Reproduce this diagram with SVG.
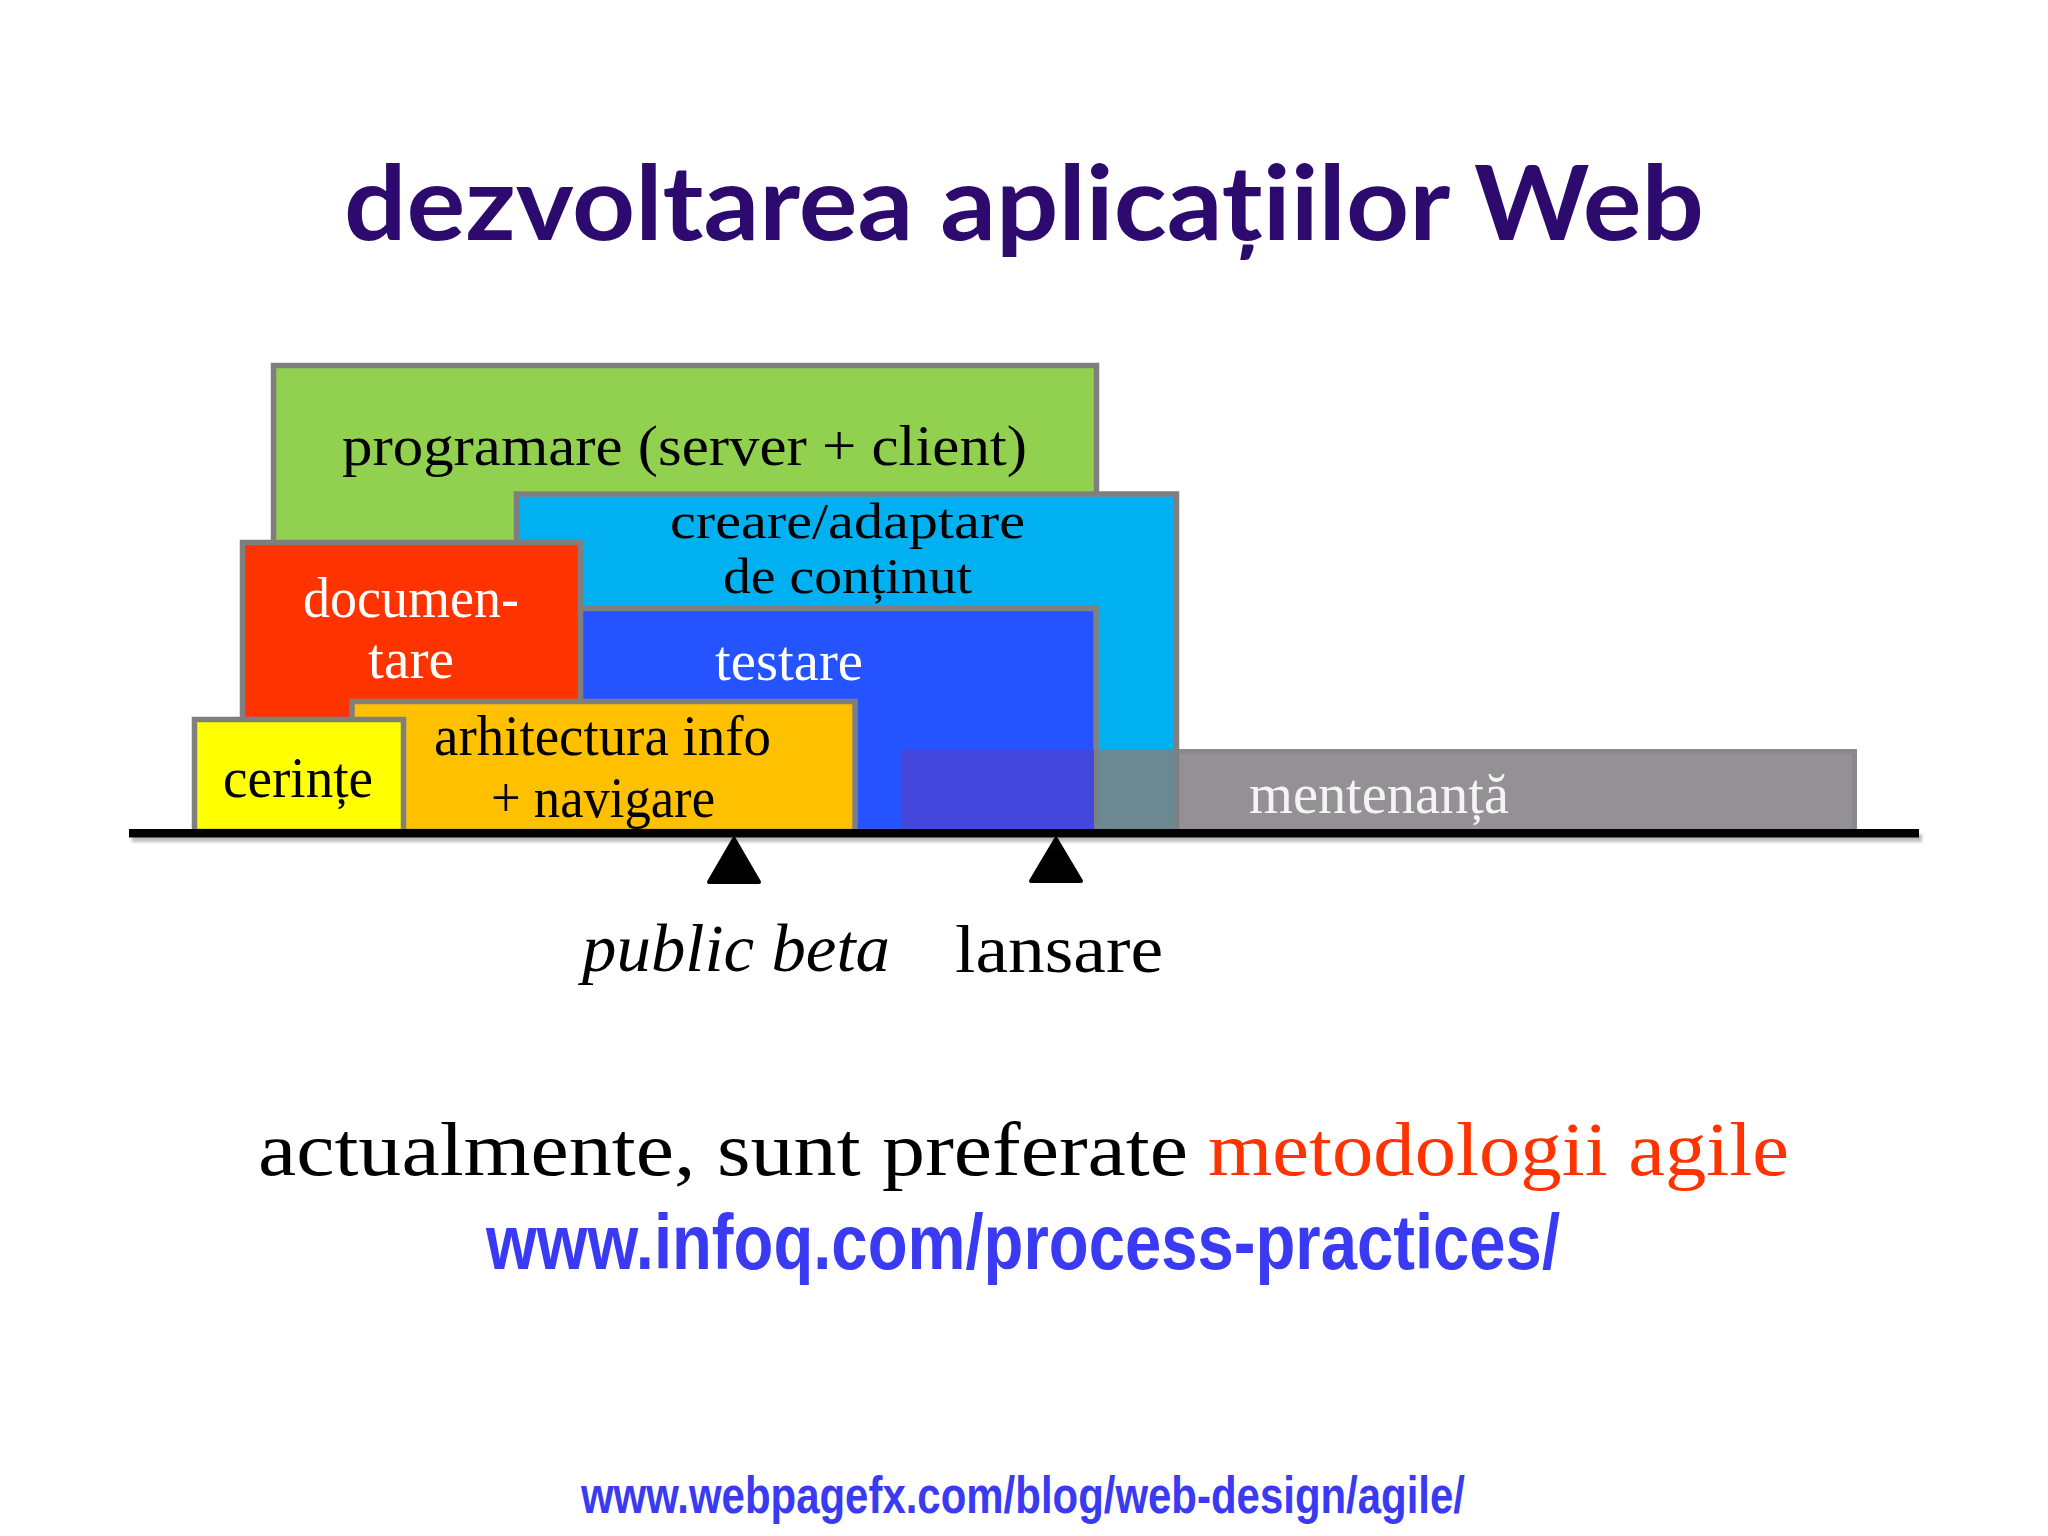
<svg xmlns="http://www.w3.org/2000/svg" width="2048" height="1536" viewBox="0 0 2048 1536">
<style>
.box{stroke:#7f7f7f;stroke-width:5.5}
.lbl{font-family:"Liberation Serif","Times New Roman",serif;font-size:57px}
.blk{fill:#000}
.wht{fill:#fff}
.url{font-family:"Liberation Sans",Arial,sans-serif;font-weight:bold;fill:#3a3af2}
</style>
<defs>
<filter id="sh" x="-5%" y="-100%" width="110%" height="300%"><feGaussianBlur stdDeviation="1.5"/></filter>
</defs>
<rect x="0" y="0" width="2048" height="1536" fill="#fff"/>
<text id="title" x="344" y="240" textLength="1360" lengthAdjust="spacingAndGlyphs" style="font-family:Lato,'Open Sans',sans-serif;font-weight:700;font-size:104px;fill:#2c0a6e">dezvoltarea aplicațiilor Web</text>

<g id="mentenanta-bg">
<rect x="902.5" y="751.5" width="952" height="80" fill="#939193" stroke="#8a8a8a" stroke-width="5"/>
</g>
<g id="programare">
<rect class="box" x="273.5" y="365.5" width="823" height="466" fill="#92d050"/>
<text class="lbl blk" x="342" y="465" textLength="685" lengthAdjust="spacingAndGlyphs">programare (server + client)</text>
</g>
<g id="continut">
<rect class="box" x="516.5" y="494" width="660" height="337" fill="#00b0f0"/>
<text class="lbl blk" x="670" y="538" textLength="355" lengthAdjust="spacingAndGlyphs" style="font-size:50px">creare/adaptare</text>
<text class="lbl blk" x="723" y="593" textLength="249" lengthAdjust="spacingAndGlyphs" style="font-size:50px">de conținut</text>
</g>
<g id="testare">
<rect class="box" x="560" y="608.5" width="536" height="223" fill="#2553ff"/>
<text class="lbl wht" x="715" y="680" textLength="148" lengthAdjust="spacingAndGlyphs">testare</text>
</g>
<g id="documentare">
<rect class="box" x="242.5" y="542.5" width="338" height="289" fill="#ff3300"/>
<text class="lbl wht" x="303" y="617" textLength="216" lengthAdjust="spacingAndGlyphs">documen-</text>
<text class="lbl wht" x="368" y="678" textLength="86" lengthAdjust="spacingAndGlyphs">tare</text>
</g>
<g id="arhitectura">
<rect class="box" x="352" y="701.5" width="503" height="130" fill="#ffc000"/>
<text class="lbl blk" x="434" y="755" textLength="337" lengthAdjust="spacingAndGlyphs">arhitectura info</text>
<text class="lbl blk" x="491" y="817" textLength="224" lengthAdjust="spacingAndGlyphs">+ navigare</text>
</g>
<g id="cerinte">
<rect class="box" x="194.5" y="719.5" width="209" height="112" fill="#ffff00"/>
<text class="lbl blk" x="223" y="797" textLength="150" lengthAdjust="spacingAndGlyphs">cerințe</text>
</g>
<g id="mentenanta">
<rect x="901" y="749.5" width="193" height="80" fill="#4347db"/>
<rect x="1099" y="749.5" width="76.5" height="80" fill="#6c8890"/>
<text class="lbl" x="1249" y="813" textLength="260" lengthAdjust="spacingAndGlyphs" fill="#f4f4f4">mentenanță</text>
</g>

<g id="timeline">
<rect x="132" y="834" width="1790" height="8" fill="#bdbdbd" filter="url(#sh)"/>
<rect x="129" y="829" width="1790" height="8.5" fill="#000"/>
<polygon points="734,839 709,882 759,882" fill="#000" stroke="#000" stroke-width="4" stroke-linejoin="round"/>
<polygon points="1056,839 1031,881 1081,881" fill="#000" stroke="#000" stroke-width="4" stroke-linejoin="round"/>
</g>
<g id="milestones">
<text x="582" y="971" textLength="308" lengthAdjust="spacingAndGlyphs" style="font-family:'Liberation Serif',serif;font-style:italic;font-size:68px;fill:#000">public beta</text>
<text x="955" y="972" textLength="208" lengthAdjust="spacingAndGlyphs" style="font-family:'Liberation Serif',serif;font-size:68px;fill:#000">lansare</text>
</g>
<g id="note">
<text style="font-family:'Liberation Serif',serif;font-size:76px"><tspan x="258" y="1175" textLength="930" lengthAdjust="spacingAndGlyphs" fill="#000">actualmente, sunt preferate</tspan><tspan x="1208" y="1175" textLength="581" lengthAdjust="spacingAndGlyphs" fill="#ff3300">metodologii agile</tspan></text>
<text class="url" x="486" y="1269" textLength="1074" lengthAdjust="spacingAndGlyphs" style="font-size:78px">www.infoq.com/process-practices/</text>
<text class="url" x="581" y="1513" textLength="884" lengthAdjust="spacingAndGlyphs" style="font-size:52px">www.webpagefx.com/blog/web-design/agile/</text>
</g>
</svg>
